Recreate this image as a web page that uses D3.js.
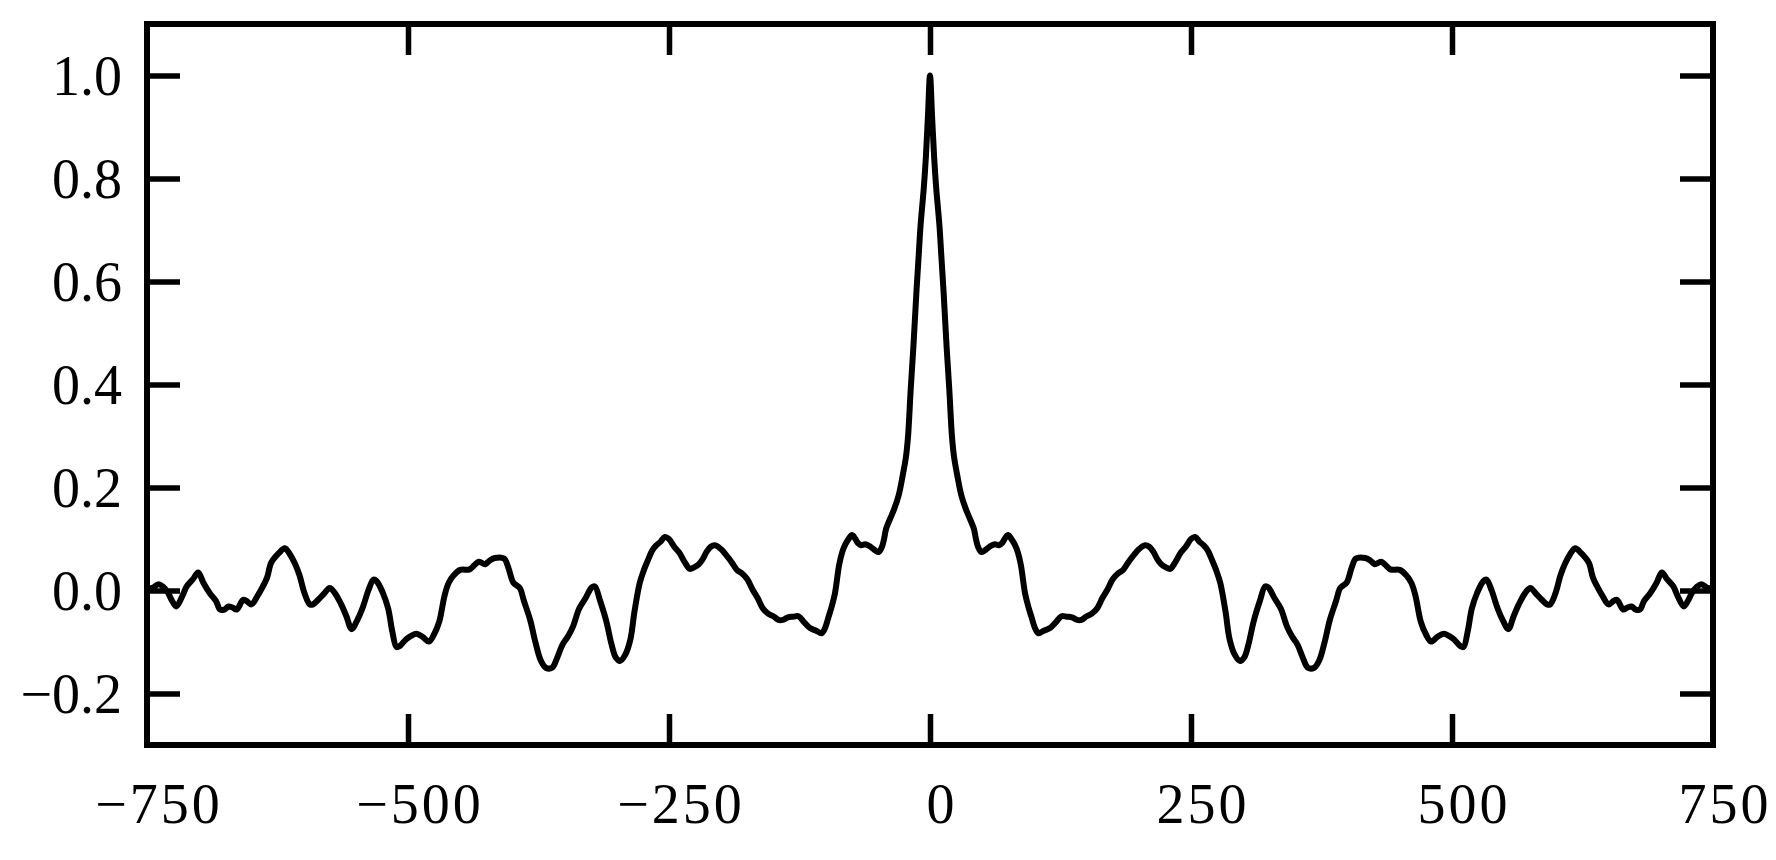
<!doctype html>
<html>

<head>
    <meta charset="UTF-8">
    <title>autocorrelation</title>
    <script src="https://d3js.org/d3.v7.min.js"></script>
    <style>
        body { margin: 0; background: #fff; }
        text { font-family: "Liberation Serif", "Times New Roman", serif; }
    </style>
</head>

<body>
    <svg class="acf" width="1776" height="860"></svg>
    <script>
        // lags left of zero
        var lagsLeft = [-750, -745, -739, -735, -730, -726, -722, -716, -712, -706,
            -701, -696, -690, -684, -680, -676, -672, -668, -664, -658,
            -655, -650, -644, -639, -635, -631, -624, -618, -613, -608,
            -604, -599, -594, -591, -586, -580, -575, -570, -564, -559,
            -554, -548, -543, -538, -533, -530, -524, -519, -515, -511,
            -508, -502, -497, -492, -486, -480, -475, -470, -465, -461,
            -456, -450, -441, -436, -432, -426, -422, -417, -408, -404,
            -399, -393, -389, -383, -378, -373, -368, -362, -357, -352,
            -347, -342, -336, -330, -324, -321, -316, -310, -305, -301,
            -297, -292, -287, -283, -278, -274, -270, -266, -262, -258,
            -254, -250, -245, -240, -235, -230, -226, -222, -218, -214,
            -210, -206, -200, -195, -190, -185, -180, -175, -170, -165,
            -160, -155, -150, -145, -141, -136, -131, -126, -120, -115,
            -109, -104, -101, -97, -94, -91, -87, -84, -81, -78,
            -75, -73, -69, -66, -62, -57, -52, -49, -46, -44,
            -42, -37, -34, -30, -26, -23, -21, -18.5, -16, -13,
            -11, -9, -6, -4, -2];
        var acfLeft = [0.005, 0.005, 0.012, 0.008, -0.004, -0.02, -0.031, -0.01, 0.008, 0.022,
            0.035, 0.015, -0.005, -0.02, -0.037, -0.037, -0.031, -0.033, -0.037, -0.018,
            -0.02, -0.027, -0.01, 0.008, 0.025, 0.054, 0.072, 0.082, 0.07, 0.051,
            0.03, -0.006, -0.027, -0.027, -0.018, -0.005, 0.005, -0.005, -0.027, -0.05,
            -0.075, -0.055, -0.031, 0.0, 0.021, 0.018, -0.005, -0.035, -0.08, -0.11,
            -0.108, -0.095, -0.088, -0.084, -0.09, -0.099, -0.085, -0.06, -0.01, 0.015,
            0.03, 0.04, 0.041, 0.05, 0.056, 0.051, 0.058, 0.063, 0.062, 0.045,
            0.015, 0.005, -0.02, -0.057, -0.1, -0.135, -0.15, -0.15, -0.13, -0.105,
            -0.09, -0.07, -0.035, -0.015, 0.006, 0.008, -0.02, -0.06, -0.105, -0.13,
            -0.137, -0.125, -0.095, -0.04, 0.015, 0.04, 0.06, 0.078, 0.088, 0.095,
            0.104, 0.1, 0.085, 0.073, 0.055, 0.042, 0.045, 0.05, 0.06, 0.075,
            0.085, 0.088, 0.08, 0.068, 0.055, 0.04, 0.033, 0.022, 0.002, -0.015,
            -0.035, -0.045, -0.05, -0.057, -0.057, -0.052, -0.051, -0.05, -0.063, -0.073,
            -0.078, -0.083, -0.075, -0.05, -0.03, -0.005, 0.05, 0.075, 0.09, 0.1,
            0.108, 0.105, 0.092, 0.088, 0.09, 0.085, 0.077, 0.075, 0.085, 0.1,
            0.12, 0.145, 0.16, 0.185, 0.225, 0.26, 0.3, 0.39, 0.47, 0.58,
            0.645, 0.71, 0.78, 0.84, 0.92];

        // zero lag
        var lagsZero = [0];
        var acfZero = [1.0];

        // lags right of zero
        var lagsRight = [2, 4, 6, 9, 11, 13, 16, 18.5, 21, 23,
            26, 30, 34, 37, 42, 44, 46, 49, 52, 57,
            62, 66, 69, 73, 75, 78, 81, 84, 87, 91,
            94, 97, 101, 104, 109, 115, 120, 126, 131, 136,
            141, 145, 150, 155, 160, 165, 170, 175, 180, 185,
            190, 195, 200, 206, 210, 214, 218, 222, 226, 230,
            235, 240, 245, 250, 254, 258, 262, 266, 270, 274,
            278, 283, 287, 292, 297, 301, 305, 310, 316, 321,
            324, 330, 336, 342, 347, 352, 357, 362, 368, 373,
            378, 383, 389, 393, 399, 404, 408, 417, 422, 426,
            432, 436, 441, 450, 456, 461, 465, 470, 475, 480,
            486, 492, 497, 502, 508, 511, 515, 519, 524, 530,
            533, 538, 543, 548, 554, 559, 564, 570, 575, 580,
            586, 591, 594, 599, 604, 608, 613, 618, 624, 631,
            635, 639, 644, 650, 655, 658, 664, 668, 672, 676,
            680, 684, 690, 696, 701, 706, 712, 716, 722, 726,
            730, 735, 739, 745, 750];
        var acfRight = [0.92, 0.84, 0.78, 0.71, 0.645, 0.58, 0.47, 0.39, 0.3, 0.26,
            0.225, 0.185, 0.16, 0.145, 0.12, 0.1, 0.085, 0.075, 0.077, 0.085,
            0.09, 0.088, 0.092, 0.105, 0.108, 0.1, 0.09, 0.075, 0.05, -0.005,
            -0.03, -0.05, -0.075, -0.083, -0.078, -0.073, -0.063, -0.05, -0.051, -0.052,
            -0.057, -0.057, -0.05, -0.045, -0.035, -0.015, 0.002, 0.022, 0.033, 0.04,
            0.055, 0.068, 0.08, 0.088, 0.085, 0.075, 0.06, 0.05, 0.045, 0.042,
            0.055, 0.073, 0.085, 0.1, 0.104, 0.095, 0.088, 0.078, 0.06, 0.04,
            0.015, -0.04, -0.095, -0.125, -0.137, -0.13, -0.105, -0.06, -0.02, 0.008,
            0.006, -0.015, -0.035, -0.07, -0.09, -0.105, -0.13, -0.15, -0.15, -0.135,
            -0.1, -0.057, -0.02, 0.005, 0.015, 0.045, 0.062, 0.063, 0.058, 0.051,
            0.056, 0.05, 0.041, 0.04, 0.03, 0.015, -0.01, -0.06, -0.085, -0.099,
            -0.09, -0.084, -0.088, -0.095, -0.108, -0.11, -0.08, -0.035, -0.005, 0.018,
            0.021, 0.0, -0.031, -0.055, -0.075, -0.05, -0.027, -0.005, 0.005, -0.005,
            -0.018, -0.027, -0.027, -0.006, 0.03, 0.051, 0.07, 0.082, 0.072, 0.054,
            0.025, 0.008, -0.01, -0.027, -0.02, -0.018, -0.037, -0.033, -0.031, -0.037,
            -0.037, -0.02, -0.005, 0.015, 0.035, 0.022, 0.008, -0.01, -0.031, -0.02,
            -0.004, 0.008, 0.012, 0.005, 0.005];

        var xTicks = [-750, -500, -250, 0, 250, 500, 750];
        var yTicks = [-0.2, 0, 0.2, 0.4, 0.6, 0.8, 1.0];

        var lags = lagsLeft.concat(lagsZero, lagsRight);
        var acf = acfLeft.concat(acfZero, acfRight);
        var points = lags.map(function (d, i) { return [d, acf[i]]; });

        var svg = d3.select(".acf");
        // plot frame (window.top is read-only, so no "top" here)
        var frameL = 147, frameR = 1713, frameT = 24, frameB = 745;

        var x = d3.scaleLinear().domain([-750, 750]).range([frameL, frameR]);
        var y = d3.scaleLinear().domain([-0.3, 1.1]).range([frameB, frameT]);

        // curve
        svg.append("path")
            .datum(points)
            .attr("d", d3.line()
                .curve(d3.curveCatmullRom.alpha(0.5))
                .x(function (d) { return x(d[0]); })
                .y(function (d) { return y(d[1]); }))
            .attr("fill", "none")
            .attr("stroke", "#000")
            .attr("stroke-width", 6)
            .attr("stroke-linejoin", "round")
            .attr("stroke-linecap", "round");

        // ticks, pointing inward on all four sides
        function styleAxis(g) {
            g.select(".domain").remove();
            g.selectAll(".tick line").attr("stroke", "#000").attr("stroke-width", 5.5);
        }
        var inner = xTicks.slice(1, -1);

        svg.append("g")
            .attr("transform", "translate(0," + frameB + ")")
            .call(d3.axisBottom(x).tickValues(inner).tickSize(-31).tickFormat(""))
            .call(styleAxis);
        svg.append("g")
            .attr("transform", "translate(0," + frameT + ")")
            .call(d3.axisTop(x).tickValues(inner).tickSize(-31).tickFormat(""))
            .call(styleAxis);
        svg.append("g")
            .attr("transform", "translate(" + frameL + ",0)")
            .call(d3.axisLeft(y).tickValues(yTicks).tickSize(-33).tickFormat(""))
            .call(styleAxis);
        svg.append("g")
            .attr("transform", "translate(" + frameR + ",0)")
            .call(d3.axisRight(y).tickValues(yTicks).tickSize(-33).tickFormat(""))
            .call(styleAxis);

        // tick labels
        var fmtY = d3.format(".1f");
        svg.append("g").selectAll("text")
            .data(yTicks)
            .enter().append("text")
            .attr("x", 122)
            .attr("y", function (d) { return y(d); })
            .attr("dy", "0.34em")
            .attr("text-anchor", "end")
            .attr("font-size", 56)
            .text(function (d) { return fmtY(d); });

        svg.append("g").selectAll("text")
            .data(xTicks)
            .enter().append("text")
            .attr("x", function (d) { return x(d) + 12; })
            .attr("y", 823)
            .attr("text-anchor", "middle")
            .attr("font-size", 56)
            .attr("letter-spacing", 3)
            .text(function (d) { return d3.format("d")(d); });

        // frame
        svg.append("rect")
            .attr("x", frameL)
            .attr("y", frameT)
            .attr("width", frameR - frameL)
            .attr("height", frameB - frameT)
            .attr("fill", "none")
            .attr("stroke", "#000")
            .attr("stroke-width", 6);
    </script>
</body>

</html>
